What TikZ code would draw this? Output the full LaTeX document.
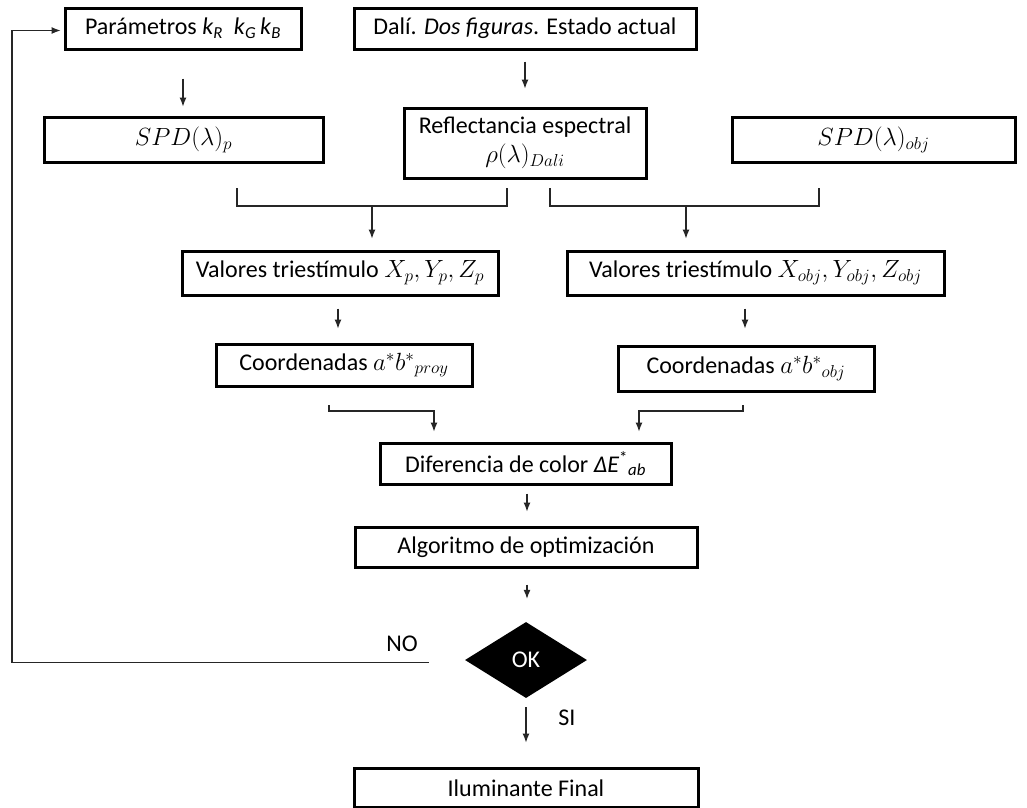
\documentclass[tikz,border=0pt]{standalone}
\usepackage{fontspec}
\setmainfont{Carlito}
\usetikzlibrary{arrows.meta,shapes.geometric}
\newcommand\fs{\fontsize{24}{29}\selectfont}
\newcommand\ks[2]{\textit{#1}\textsubscript{\textit{#2}}}
\begin{document}
\begin{tikzpicture}[x=1pt,y=-1pt,
  box/.style={draw, line width=3pt, inner sep=0pt, font=\fs, align=center},
  conn/.style={draw=black!85, line width=1.1pt},
  arr/.style={conn, -{Latex[length=9pt,width=7pt]}},
  lbl/.style={font=\fs, inner sep=0pt}]
\useasboundingbox (0,0) rectangle (1027,807);

% process boxes
\node[box, minimum width=236pt, minimum height=41pt] (par) at (183,28.5)
  {Parámetros \ks{k}{R}\ \ \ks{k}{G}\,\ks{k}{B}};
\node[box, minimum width=342pt, minimum height=41pt] (dali) at (525,28.5)
  {Dalí. \textit{Dos figuras}. Estado actual};
\node[box, minimum width=279pt, minimum height=45pt] (spdp) at (183.5,139.5)
  {$SPD(\lambda)_p$};
\node[box, minimum width=242pt, minimum height=70pt] (refl) at (525,143)
  {Reflectancia espectral\\ $\rho(\lambda)_{Dali}$};
\node[box, minimum width=283pt, minimum height=45pt] (spdo) at (873.5,139.5)
  {$SPD(\lambda)_{obj}$};
\node[box, minimum width=316pt, minimum height=44pt] (valp) at (340,273)
  {Valores triestímulo $X_p, Y_p, Z_p$};
\node[box, minimum width=377pt, minimum height=44pt] (valo) at (755.5,273)
  {Valores triestímulo $X_{obj}, Y_{obj}, Z_{obj}$};
\node[box, minimum width=256pt, minimum height=42pt] (coorp) at (344,365)
  {Coordenadas $a^*b^*{}_{proy}$};
\node[box, minimum width=256pt, minimum height=45pt] (cooro) at (746,368.5)
  {Coordenadas $a^*b^*{}_{obj}$};
\node[box, minimum width=291pt, minimum height=41pt] (dif) at (525.5,463.5)
  {Diferencia de color \textit{ΔE}\textsuperscript{*}\textsubscript{\textit{ab}}};
\node[box, minimum width=342pt, minimum height=40pt] (alg) at (526,547)
  {Algoritmo de optimización};
\node[diamond, fill=black, text=white, inner sep=0pt, font=\fs,
  minimum width=122pt, minimum height=76pt] (ok) at (526,660) {OK};
\node[box, minimum width=344pt, minimum height=39.5pt] (ilu) at (526,787.75)
  {Iluminante Final};

% labels of the decision
\node[lbl] (nolbl) at (402,644) {NO};
\node[lbl] (silbl) at (567,718) {SI};

% junction points of the joining brackets
\coordinate (lbL) at (237,188);
\coordinate (lbR) at (507,188);
\coordinate (lbM) at (372,206);
\coordinate (rbL) at (550,188);
\coordinate (rbR) at (819,188);
\coordinate (rbM) at (686,206);
\coordinate (cbL) at (329,405);
\coordinate (cbJ) at (434,411);
\coordinate (cbR) at (743,405);
\coordinate (cbK) at (639,411);
\coordinate (loopx) at (12,0);

% straight arrows
\draw[arr, shorten <=28pt, shorten >=9pt] (par.south) -- (par.south |- spdp.north);
\draw[arr, shorten <=11pt, shorten >=18pt] (dali.south) -- (dali.south |- refl.north);
\draw[arr, shorten <=12pt, shorten >=14pt] (valp.south -| 338,0) -- (338,0 |- coorp.north);
\draw[arr, shorten <=12pt, shorten >=16pt] (valo.south -| 745,0) -- (745,0 |- cooro.north);
\draw[arr, shorten <=8pt, shorten >=14pt] (dif.south -| 527,0) -- (527,0 |- alg.north);
\draw[arr, shorten <=16pt, shorten >=23pt] (alg.south -| 527,0) -- (527,0 |- ok.north);
\draw[arr, shorten <=9pt, shorten >=24pt] (ok.south) -- (ok.south |- ilu.north);

% brackets joining two inputs
\draw[conn] (lbL) -- (lbL |- lbM) -- (lbR |- lbM) -- (lbR);
\draw[arr, shorten >=11pt] (lbM) -- (lbM |- valp.north);
\draw[conn] (rbL) -- (rbL |- rbM) -- (rbR |- rbM) -- (rbR);
\draw[arr, shorten >=11pt] (rbM) -- (rbM |- valo.north);
\draw[arr, shorten >=10pt] (cbL) |- (cbJ) -- (cbJ |- dif.north);
\draw[arr, shorten >=10pt] (cbR) |- (cbK) -- (cbK |- dif.north);

% feedback loop
\draw[arr, shorten <=36pt, shorten >=3pt] ([yshift=-2.5pt]ok.west) -- ([yshift=-2.5pt]ok.west -| loopx) |- ([yshift=-2pt]par.west);
\end{tikzpicture}
\end{document}
